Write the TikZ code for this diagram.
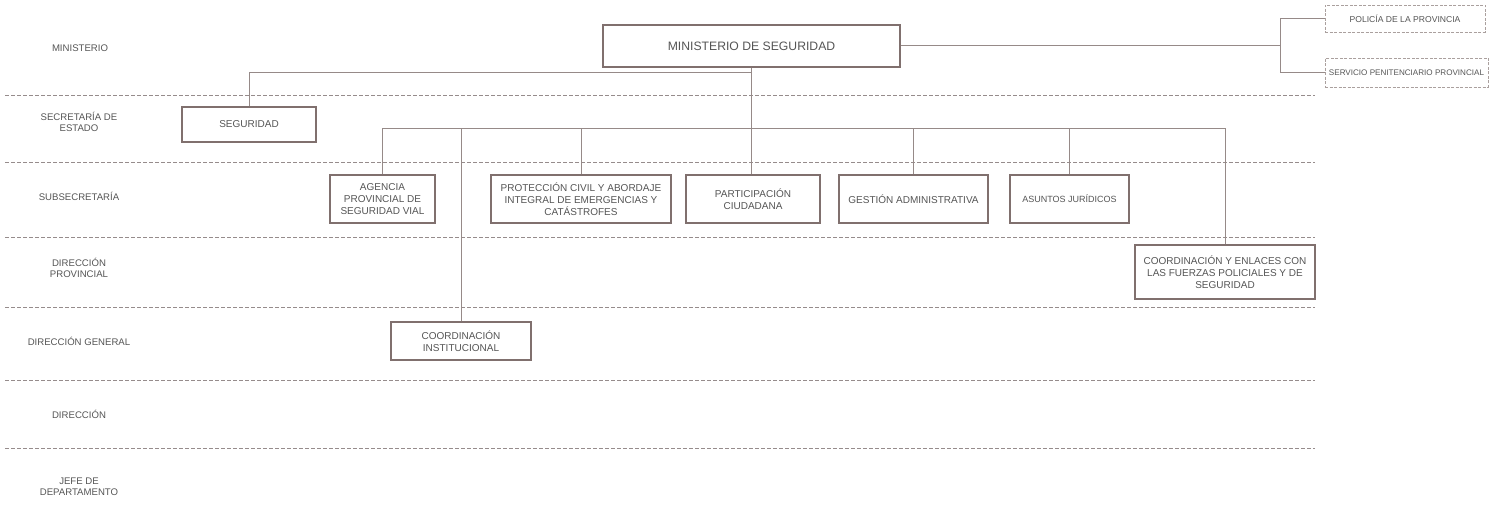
\documentclass[tikz,border=0pt]{standalone}
\usepackage{fontspec}
\setmainfont{Liberation Sans}
\definecolor{boxline}{RGB}{128,112,110}
\definecolor{conline}{RGB}{150,138,136}
\definecolor{sepline}{RGB}{150,140,140}
\definecolor{txt}{RGB}{85,85,85}
\definecolor{lightbox}{RGB}{170,160,158}
\begin{document}
\begin{tikzpicture}[x=1pt,y=-1pt,
  box/.style={draw=boxline,line width=1.3pt,inner sep=2pt,align=center,text=txt,font=\fontsize{10}{11.8}\selectfont},
  sidebox/.style={draw=lightbox,line width=0.9pt,dash pattern=on 3pt off 1.5pt,inner sep=1pt,align=center,text=txt},
  rowlabel/.style={align=center,text=txt,font=\fontsize{9.6}{11}\selectfont},
  conn/.style={draw=conline,line width=1pt},
  sep/.style={draw=sepline,line width=0.8pt,dash pattern=on 4pt off 2pt}]
\useasboundingbox (0,0) rectangle (1502,511);
\fill[white] (0,0) rectangle (1502,511);

% separators
\foreach \yy in {95,162,237,307,380,448}{\draw[sep] (5,\yy) -- (1315,\yy);}

% row labels
\node[rowlabel] (lmin) at (80,48) {MINISTERIO};
\node[rowlabel] (lsec) at (79,122) {SECRETARÍA DE\\ESTADO};
\node[rowlabel] (lsub) at (79,196) {SUBSECRETARÍA};
\node[rowlabel] (ldp) at (79,268) {DIRECCIÓN\\PROVINCIAL};
\node[rowlabel] (ldg) at (79,341) {DIRECCIÓN GENERAL};
\node[rowlabel] (ldir) at (79,414) {DIRECCIÓN};
\node[rowlabel] (ljef) at (79,487) {JEFE DE\\DEPARTAMENTO};

% boxes
\node[box,minimum width=297,minimum height=42,font=\fontsize{12.2}{13}\selectfont] (min) at (751.5,46) {MINISTERIO DE SEGURIDAD};
\node[box,minimum width=134,minimum height=35] (seg) at (249,124.5) {SEGURIDAD};
\node[box,minimum width=105,minimum height=48] (age) at (382.5,199) {AGENCIA\\PROVINCIAL DE\\SEGURIDAD VIAL};
\node[box,minimum width=180,minimum height=48] (pro) at (581,199) {PROTECCIÓN CIVIL Y ABORDAJE\\INTEGRAL DE EMERGENCIAS Y\\CATÁSTROFES};
\node[box,minimum width=134,minimum height=48] (par) at (753,199) {PARTICIPACIÓN\\CIUDADANA};
\node[box,minimum width=149,minimum height=48] (ges) at (913.5,199) {GESTIÓN ADMINISTRATIVA};
\node[box,minimum width=119,minimum height=48,font=\fontsize{9}{10}\selectfont] (asu) at (1069.5,199) {ASUNTOS JURÍDICOS};
\node[box,minimum width=180,minimum height=54] (cen) at (1225,272) {COORDINACIÓN Y ENLACES CON\\LAS FUERZAS POLICIALES Y DE\\SEGURIDAD};
\node[box,minimum width=140,minimum height=38] (cin) at (461,341) {COORDINACIÓN\\INSTITUCIONAL};
\node[sidebox,minimum width=160,minimum height=27,font=\fontsize{8.6}{9}\selectfont] (pol) at (1405,18.5) {POLICÍA DE LA PROVINCIA};
\node[sidebox,minimum width=163,minimum height=29,font=\fontsize{8.1}{9}\selectfont] (ser) at (1406.5,72.5) {SERVICIO PENITENCIARIO PROVINCIAL};

% connectors
\coordinate (j1) at (752,73);
\coordinate (busL) at (382,128);
\coordinate (busR) at (1225,128);
\coordinate (rj) at (1280,46);
\draw[conn] (min.south) -- (min.south |- par.north);
\draw[conn] (j1) -| (seg.north);
\draw[conn] (busL) -- (busR);
\draw[conn] (age.north) -- (age.north |- busL);
\draw[conn] (cin.north) -- (cin.north |- busL);
\draw[conn] (pro.north) -- (pro.north |- busL);
\draw[conn] (ges.north) -- (ges.north |- busL);
\draw[conn] (asu.north) -- (asu.north |- busL);
\draw[conn] (cen.north) -- (cen.north |- busL);
\draw[conn] (min.east) -- (rj);
\draw[conn] (pol.west) -- (pol.west -| rj) -- (ser.west -| rj) -- (ser.west);
\end{tikzpicture}
\end{document}
